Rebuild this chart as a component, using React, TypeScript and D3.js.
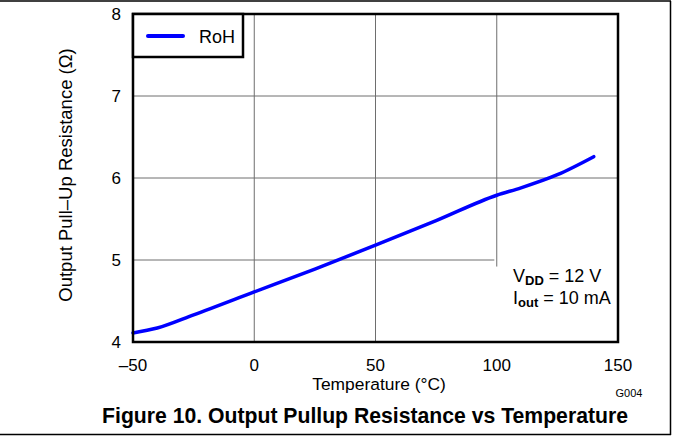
import React from 'react';
import * as d3 from 'd3';

const temps = [-50, -40, -25, 0, 25, 50, 75, 100, 110, 125, 140];
const rohValues = [4.11, 4.17, 4.33, 4.61, 4.89, 5.18, 5.48, 5.79, 5.88, 6.04, 6.26];
const xTicks = [-50, 0, 50, 100, 150];
const yTicks = [4, 5, 6, 7, 8];

const W = 673;
const H = 436;
const margin = { top: 14, right: 55, bottom: 94, left: 133 };
const font = 'Liberation Sans, Arial, sans-serif';

const App: React.FC = () => {
  const x = d3.scaleLinear().domain([-50, 150]).range([margin.left, W - margin.right]);
  const y = d3.scaleLinear().domain([4, 8]).range([H - margin.bottom, margin.top]);

  const line = d3
    .line<number>()
    .x((_, i) => x(temps[i]))
    .y(d => y(d))
    .curve(d3.curveMonotoneX);

  const x0 = x(-50);
  const x1 = x(150);
  const y0 = y(4);
  const y1 = y(8);

  return (
    <svg width={W} height={H} style={{ position: 'absolute', left: 0, top: 0 }} fontFamily={font}>
      <rect x={0} y={0} width={W} height={H} fill="#fff" />
      {/* outer frame */}
      <line x1={0} x2={671} y1={1} y2={1} stroke="#000" strokeWidth={1.5} />
      <line x1={0} x2={671} y1={434.5} y2={434.5} stroke="#000" strokeWidth={1.5} />
      <line x1={670.5} x2={670.5} y1={1} y2={435} stroke="#000" strokeWidth={1.5} />

      {/* grid */}
      {yTicks.slice(1, -1).map(t => (
        <line key={'gy' + t} x1={x0} x2={t === 5 ? x(99) : x1} y1={y(t)} y2={y(t)} stroke="#6e6e6e" strokeWidth={1} />
      ))}
      {xTicks.slice(1, -1).map(t => (
        <line key={'gx' + t} x1={x(t)} x2={x(t)} y1={y1} y2={t === 100 ? y(4.92) : y0} stroke="#6e6e6e" strokeWidth={1} />
      ))}

      <path d={line(rohValues) ?? ''} fill="none" stroke="#0000ff" strokeWidth={3.5} strokeLinecap="round" />

      {/* plot frame */}
      <rect x={x0} y={y1} width={x1 - x0} height={y0 - y1} fill="none" stroke="#000" strokeWidth={2.5} />

      {/* legend */}
      <rect x={x0} y={y1} width={110} height={43} fill="#fff" stroke="#000" strokeWidth={2.5} />
      <line x1={148} x2={183} y1={36} y2={36} stroke="#0000ff" strokeWidth={4} strokeLinecap="round" />
      <text x={199} y={42.5} fontSize={18} fill="#000">RoH</text>

      {/* y ticks */}
      {yTicks.map(t => (
        <text key={'yt' + t} x={121} y={y(t) + 6} fontSize={17} textAnchor="end" fill="#000">
          {t}
        </text>
      ))}
      {/* x ticks */}
      {xTicks.map(t => (
        <text key={'xt' + t} x={x(t)} y={371} fontSize={17} textAnchor="middle" fill="#000">
          {t < 0 ? '\u2013' + Math.abs(t) : t}
        </text>
      ))}

      <text x={379} y={390} fontSize={17.4} textAnchor="middle" fill="#000">Temperature (°C)</text>
      <text transform="translate(72,175) rotate(-90)" fontSize={18.5} textAnchor="middle" fill="#000">
        Output Pull–Up Resistance (Ω)
      </text>

      {/* conditions */}
      <text x={513} y={282} fontSize={18} fill="#000">
        V<tspan fontSize={13} fontWeight="bold" dy={3}>DD</tspan>
        <tspan dy={-3}> = 12 V</tspan>
      </text>
      <text x={513} y={304} fontSize={18} fill="#000">
        I<tspan fontSize={13} fontWeight="bold" dy={3}>out</tspan>
        <tspan dy={-3}> = 10 mA</tspan>
      </text>

      <text x={629} y={397} fontSize={11} textAnchor="middle" fill="#000">G004</text>
      <text x={365} y={423} fontSize={21.2} fontWeight="bold" textAnchor="middle" fill="#000">
        Figure 10. Output Pullup Resistance vs Temperature
      </text>
    </svg>
  );
};

export default App;
